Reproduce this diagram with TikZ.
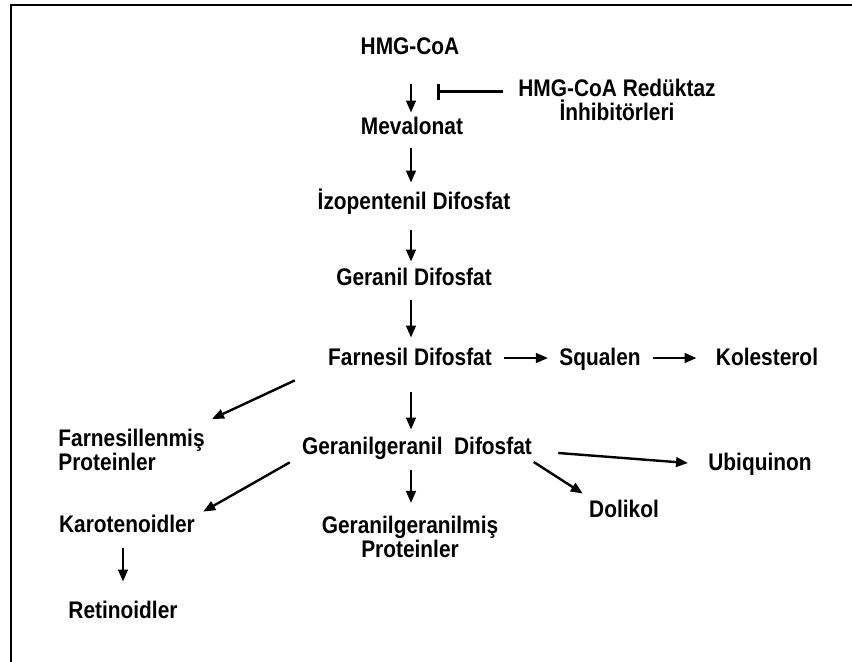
\documentclass[tikz,border=0pt]{standalone}
\usepackage{fontspec}
\setmainfont{Liberation Sans}[FakeStretch=0.87]
\usetikzlibrary{arrows.meta}

\begin{document}
\begin{tikzpicture}[x=0.5pt,y=-0.5pt,
    lbl/.style={font=\fontsize{12}{12}\selectfont\bfseries, inner sep=0pt},
    one/.style={lbl, text height=9.5pt, text depth=1.5pt},
    arr/.style={-{Triangle[length=6pt,width=4.8pt]}, line width=1.2pt},
    inhib/.style={-{Bar[width=8pt,line width=1.6pt]}, line width=1.5pt}]
    \useasboundingbox (0,0) rectangle (852,662);

    % frame
    \draw[line width=1pt] (852,5) -- (11,5) -- (11,662);

    \coordinate (col) at (411,0);
    \coordinate (blk) at (437,92);

    % main chain
    \node[one] (hmg) at (410,47) {HMG-CoA};
    \node[lbl, align=center, anchor=north] (inh) at (617,79) {HMG-CoA Redüktaz\\İnhibitörleri};
    \node[one] (mev) at (412,127) {Mevalonat};
    \node[one] (izo) at (414,202) {İzopentenil Difosfat};
    \node[one] (ger) at (414,278) {Geranil Difosfat};
    \node[one] (far) at (410,358) {Farnesil Difosfat};
    \node[one] (sq) at (600,358) {Squalen};
    \node[one] (kol) at (767,358) {Kolesterol};
    \node[lbl, align=left, anchor=north west] (fp) at (58,429) {Farnesillenmiş\\Proteinler};
    \node[one] (gg) at (417,447) {Geranilgeranil\ \ Difosfat};
    \node[one] (ubi) at (760,463) {Ubiquinon};
    \node[one] (dol) at (624,510) {Dolikol};
    \node[one] (kar) at (127,525) {Karotenoidler};
    \node[lbl, align=center, anchor=north] (ggp) at (410,516) {Geranilgeranilmiş\\Proteinler};
    \node[one] (ret) at (123,610) {Retinoidler};

    % arrows
    \draw[arr, shorten <=13pt, shorten >=1.5pt] (col |- hmg.south) -- (col |- mev.north);
    \draw[arr, shorten <=5pt, shorten >=4pt] (col |- mev.south) -- (col |- izo.north);
    \draw[arr, shorten <=8.5pt, shorten >=2.5pt] (col |- izo.south) -- (col |- ger.north);
    \draw[arr, shorten <=5.5pt, shorten >=4.5pt] (col |- ger.south) -- (col |- far.north);
    \draw[arr, shorten <=11.5pt, shorten >=3pt] (col |- far.south) -- (col |- gg.north);
    \draw[arr, shorten <=6pt, shorten >=6.5pt] (col |- gg.south) -- (col |- ggp.north);
    \draw[arr, shorten <=6pt, shorten >=8.5pt] (ret.north |- kar.south) -- (ret.north);

    \draw[arr, shorten <=6pt, shorten >=5.5pt] (far) -- (sq);
    \draw[arr, shorten <=6pt, shorten >=9.5pt] (sq) -- (kol);
    \draw[arr] ([shift={(13pt,-3pt)}]gg.east) -- ([xshift=-10pt]ubi.west);
    \draw[arr] ([shift={(0.75pt,-7.5pt)}]gg.east) -- ([shift={(-3pt,2.5pt)}]dol.north west);
    \draw[arr] ([shift={(-16.5pt,-5.5pt)}]far.south west) -- ([shift={(3.5pt,5pt)}]fp.north east);
    \draw[arr] ([shift={(-6pt,-2pt)}]gg.south west) -- ([shift={(4pt,1pt)}]kar.north east);

    % inhibition
    \draw[inhib] (inh.west |- blk) ++(-7.5pt,0) -- (blk);

\end{tikzpicture}
\end{document}
